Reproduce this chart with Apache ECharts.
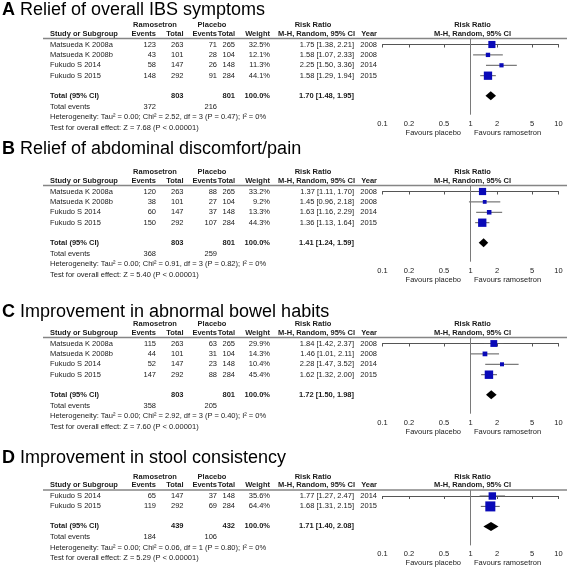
<!DOCTYPE html>
<html><head><meta charset="utf-8">
<script src="https://cdn.jsdelivr.net/npm/echarts@6/dist/echarts.min.js"></script>
<style>html,body{margin:0;padding:0;background:#fff}#c{width:567px;height:567px}</style>
</head><body><div id="c"></div>
<script>
// ---------- DATA ----------
const panelLetters = ['A', 'B', 'C', 'D'];
const panelTitles = ['Relief of overall IBS symptoms', 'Relief of abdominal discomfort/pain', 'Improvement in abnormal bowel habits', 'Improvement in stool consistency'];
const tickValues = [0.1, 0.2, 0.5, 1, 2, 5, 10];
const favoursLeft = 'Favours placebo';
const favoursRight = 'Favours ramosetron';

// Panel A
const studiesA = ['Matsueda K 2008a', 'Matsueda K 2008b', 'Fukudo S 2014', 'Fukudo S 2015'];
const ramEventsA = [123, 43, 58, 148];
const ramTotalA = [263, 101, 147, 292];
const plaEventsA = [71, 28, 26, 91];
const plaTotalA = [265, 104, 148, 284];
const weightA = [32.5, 12.1, 11.3, 44.1];
const rrA = [1.75, 1.58, 2.25, 1.58];
const loA = [1.38, 1.07, 1.50, 1.29];
const hiA = [2.21, 2.33, 3.36, 1.94];
const yearA = [2008, 2008, 2014, 2015];
const pooledA = [1.70, 1.48, 1.95];
const sumTotalsA = [803, 801];
const sumEventsA = [372, 216];
const hetA = 'Heterogeneity: Tau² = 0.00; Chi² = 2.52, df = 3 (P = 0.47); I² = 0%';
const testA = 'Test for overall effect: Z = 7.68 (P < 0.00001)';

// Panel B
const studiesB = ['Matsueda K 2008a', 'Matsueda K 2008b', 'Fukudo S 2014', 'Fukudo S 2015'];
const ramEventsB = [120, 38, 60, 150];
const ramTotalB = [263, 101, 147, 292];
const plaEventsB = [88, 27, 37, 107];
const plaTotalB = [265, 104, 148, 284];
const weightB = [33.2, 9.2, 13.3, 44.3];
const rrB = [1.37, 1.45, 1.63, 1.36];
const loB = [1.11, 0.96, 1.16, 1.13];
const hiB = [1.70, 2.18, 2.29, 1.64];
const yearB = [2008, 2008, 2014, 2015];
const pooledB = [1.41, 1.24, 1.59];
const sumTotalsB = [803, 801];
const sumEventsB = [368, 259];
const hetB = 'Heterogeneity: Tau² = 0.00; Chi² = 0.91, df = 3 (P = 0.82); I² = 0%';
const testB = 'Test for overall effect: Z = 5.40 (P < 0.00001)';

// Panel C
const studiesC = ['Matsueda K 2008a', 'Matsueda K 2008b', 'Fukudo S 2014', 'Fukudo S 2015'];
const ramEventsC = [115, 44, 52, 147];
const ramTotalC = [263, 101, 147, 292];
const plaEventsC = [63, 31, 23, 88];
const plaTotalC = [265, 104, 148, 284];
const weightC = [29.9, 14.3, 10.4, 45.4];
const rrC = [1.84, 1.46, 2.28, 1.62];
const loC = [1.42, 1.01, 1.47, 1.32];
const hiC = [2.37, 2.11, 3.52, 2.00];
const yearC = [2008, 2008, 2014, 2015];
const pooledC = [1.72, 1.50, 1.98];
const sumTotalsC = [803, 801];
const sumEventsC = [358, 205];
const hetC = 'Heterogeneity: Tau² = 0.00; Chi² = 2.92, df = 3 (P = 0.40); I² = 0%';
const testC = 'Test for overall effect: Z = 7.60 (P < 0.00001)';

// Panel D
const studiesD = ['Fukudo S 2014', 'Fukudo S 2015'];
const ramEventsD = [65, 119];
const ramTotalD = [147, 292];
const plaEventsD = [37, 69];
const plaTotalD = [148, 284];
const weightD = [35.6, 64.4];
const rrD = [1.77, 1.68];
const loD = [1.27, 1.31];
const hiD = [2.47, 2.15];
const yearD = [2014, 2015];
const pooledD = [1.71, 1.40, 2.08];
const sumTotalsD = [439, 432];
const sumEventsD = [184, 106];
const hetD = 'Heterogeneity: Tau² = 0.00; Chi² = 0.06, df = 1 (P = 0.80); I² = 0%';
const testD = 'Test for overall effect: Z = 5.29 (P < 0.00001)';

// ---------- LAYOUT ----------
const panels = [
  {studies: studiesA, re: ramEventsA, rt: ramTotalA, pe: plaEventsA, pt: plaTotalA, w: weightA, rr: rrA, lo: loA, hi: hiA, yr: yearA, pooled: pooledA, tot: sumTotalsA, ev: sumEventsA, het: hetA, test: testA},
  {studies: studiesB, re: ramEventsB, rt: ramTotalB, pe: plaEventsB, pt: plaTotalB, w: weightB, rr: rrB, lo: loB, hi: hiB, yr: yearB, pooled: pooledB, tot: sumTotalsB, ev: sumEventsB, het: hetB, test: testB},
  {studies: studiesC, re: ramEventsC, rt: ramTotalC, pe: plaEventsC, pt: plaTotalC, w: weightC, rr: rrC, lo: loC, hi: hiC, yr: yearC, pooled: pooledC, tot: sumTotalsC, ev: sumEventsC, het: hetC, test: testC},
  {studies: studiesD, re: ramEventsD, rt: ramTotalD, pe: plaEventsD, pt: plaTotalD, w: weightD, rr: rrD, lo: loD, hi: hiD, yr: yearD, pooled: pooledD, tot: sumTotalsD, ev: sumEventsD, het: hetD, test: testD}
];
const lineY = [38.5, 185.5, 337.5, 490];
const titleY = [10, 149, 312, 458];
const pitch = 10.4;
const rowMin = -6 / pitch;
const totalGap = 20 / pitch;
const axisGap = 19 / pitch;

const FF = '"Liberation Sans", Arial, sans-serif';
const FS = 7.5;
const TXT = '#1a1a1a';
const fontN = FS + 'px ' + FF;
const fontB = 'bold ' + FS + 'px ' + FF;

const X = {name: 50, lineStart: 43, re: 156, rt: 183.5, pe: 217, pt: 235, w: 270, rrText: 354, year: 377, mh: 278};
const plotLeft = 382.5, plotWidth = 176, plotCenter = 470.5;

const graphics = [];
function txt(s, x, y, font, align, extra) {
  graphics.push(Object.assign({type: 'text', x: x, y: y, silent: true,
    style: {text: String(s), font: font || fontN, fill: TXT, align: align || 'left', verticalAlign: 'middle'}}, extra || {}));
}
const fmt2 = v => v.toFixed(2);
const rrStr = (r, l, h) => fmt2(r) + ' [' + fmt2(l) + ', ' + fmt2(h) + ']';

const grids = [], xAxes = [], yAxes = [], series = [];

panels.forEach((p, i) => {
  const L = lineY[i];
  const n = p.studies.length;
  const totalRow = n - 1 + totalGap;
  const yMax = totalRow + axisGap;
  const yPix = v => L + (v - rowMin) * pitch;
  const axisY = yPix(yMax);

  // title
  graphics.push({type: 'text', x: 2, y: titleY[i], silent: true,
    style: {text: '{b|' + panelLetters[i] + '} ' + panelTitles[i], font: '18px ' + FF, fill: '#000', verticalAlign: 'middle',
      rich: {b: {font: 'bold 18px ' + FF, fill: '#000'}}}});

  // header rows
  const h1 = L - 13.5, h2 = L - 5;
  txt('Ramosetron', 155, h1, fontB, 'center');
  txt('Placebo', 212, h1, fontB, 'center');
  txt('Risk Ratio', 313, h1, fontB, 'center');
  txt('Risk Ratio', plotCenter + 2, h1, fontB, 'center');
  txt('Study or Subgroup', X.name, h2, fontB, 'left');
  txt('Events', X.re, h2, fontB, 'right');
  txt('Total', X.rt, h2, fontB, 'right');
  txt('Events', X.pe, h2, fontB, 'right');
  txt('Total', X.pt, h2, fontB, 'right');
  txt('Weight', X.w, h2, fontB, 'right');
  txt('M-H, Random, 95% CI', X.mh, h2, fontB, 'left');
  txt('Year', X.year, h2, fontB, 'right');
  txt('M-H, Random, 95% CI', plotCenter + 2, h2, fontB, 'center');
  graphics.push({type: 'line', silent: true, shape: {x1: X.lineStart, y1: L, x2: 567, y2: L}, style: {stroke: '#858585', lineWidth: 1.5}});

  // study rows
  p.studies.forEach((s, k) => {
    const y = yPix(k);
    txt(s, X.name, y);
    txt(p.re[k], X.re, y, fontN, 'right');
    txt(p.rt[k], X.rt, y, fontN, 'right');
    txt(p.pe[k], X.pe, y, fontN, 'right');
    txt(p.pt[k], X.pt, y, fontN, 'right');
    txt(p.w[k].toFixed(1) + '%', X.w, y, fontN, 'right');
    txt(rrStr(p.rr[k], p.lo[k], p.hi[k]), X.rrText, y, fontN, 'right');
    txt(p.yr[k], X.year, y, fontN, 'right');
  });

  // totals
  const yT = yPix(totalRow);
  txt('Total (95% CI)', X.name, yT, fontB);
  txt(p.tot[0], X.rt, yT, fontB, 'right');
  txt(p.tot[1], X.pt, yT, fontB, 'right');
  txt('100.0%', X.w, yT, fontB, 'right');
  txt(rrStr(p.pooled[0], p.pooled[1], p.pooled[2]), X.rrText, yT, fontB, 'right');
  txt('Total events', X.name, yT + 11);
  txt(p.ev[0], X.re, yT + 11, fontN, 'right');
  txt(p.ev[1], X.pe, yT + 11, fontN, 'right');
  txt(p.het, X.name, yT + 21.5);
  txt(p.test, X.name, yT + 32);

  // favours
  txt(favoursLeft, plotCenter - 9.5, axisY + 18, fontN, 'right');
  txt(favoursRight, plotCenter + 3.5, axisY + 18, fontN, 'left');

  grids.push({left: plotLeft, width: plotWidth, top: L, height: axisY - L});
  xAxes.push({type: 'log', logBase: 10, gridIndex: i, min: 0.1, max: 10, position: 'bottom',
    axisLine: {show: true, lineStyle: {color: '#555', width: 1}},
    axisTick: {show: true, customValues: tickValues, length: 3, lineStyle: {color: '#555'}},
    axisLabel: {show: true, customValues: tickValues, margin: 5, fontSize: FS, fontFamily: FF, color: TXT,
      formatter: v => String(+(+v).toPrecision(3))},
    splitLine: {show: false}, minorTick: {show: false}});
  yAxes.push({type: 'value', gridIndex: i, inverse: true, min: rowMin, max: yMax, show: false});

  const studyData = p.studies.map((s, k) => [p.rr[k], p.lo[k], p.hi[k], k, p.w[k]]);
  series.push({type: 'custom', xAxisIndex: i, yAxisIndex: i, silent: true, clip: false,
    encode: {x: [0, 1, 2], y: 3},
    data: studyData,
    renderItem: (params, api) => {
      const row = api.value(3);
      const c = api.coord([api.value(0), row]);
      const cl = api.coord([api.value(1), row]);
      const ch = api.coord([api.value(2), row]);
      const s = 1.25 * Math.sqrt(api.value(4));
      return {type: 'group', children: [
        {type: 'line', shape: {x1: cl[0], y1: c[1], x2: ch[0], y2: c[1]}, style: {stroke: '#5a5a5a', lineWidth: 1}},
        {type: 'rect', shape: {x: c[0] - s / 2, y: c[1] - s / 2, width: s, height: s}, style: {fill: '#0a0ab8'}}
      ]};
    },
    markLine: {silent: true, symbol: 'none', label: {show: false},
      lineStyle: {color: '#7a7a7a', width: 1, type: 'solid'}, data: [{xAxis: 1}]}
  });
  series.push({type: 'custom', xAxisIndex: i, yAxisIndex: i, silent: true, clip: false,
    encode: {x: [0, 1, 2], y: 3},
    data: [[p.pooled[0], p.pooled[1], p.pooled[2], totalRow]],
    renderItem: (params, api) => {
      const row = api.value(3);
      const c = api.coord([api.value(0), row]);
      const cl = api.coord([api.value(1), row]);
      const ch = api.coord([api.value(2), row]);
      return {type: 'polygon', shape: {points: [[cl[0], c[1]], [c[0], c[1] - 4.5], [ch[0], c[1]], [c[0], c[1] + 4.5]]},
        style: {fill: '#000'}};
    }
  });
});

const chart = echarts.init(document.getElementById('c'), null, {renderer: 'canvas'});
chart.setOption({
  animation: false,
  backgroundColor: '#fff',
  grid: grids, xAxis: xAxes, yAxis: yAxes, series: series,
  graphic: graphics
});
</script></body></html>
